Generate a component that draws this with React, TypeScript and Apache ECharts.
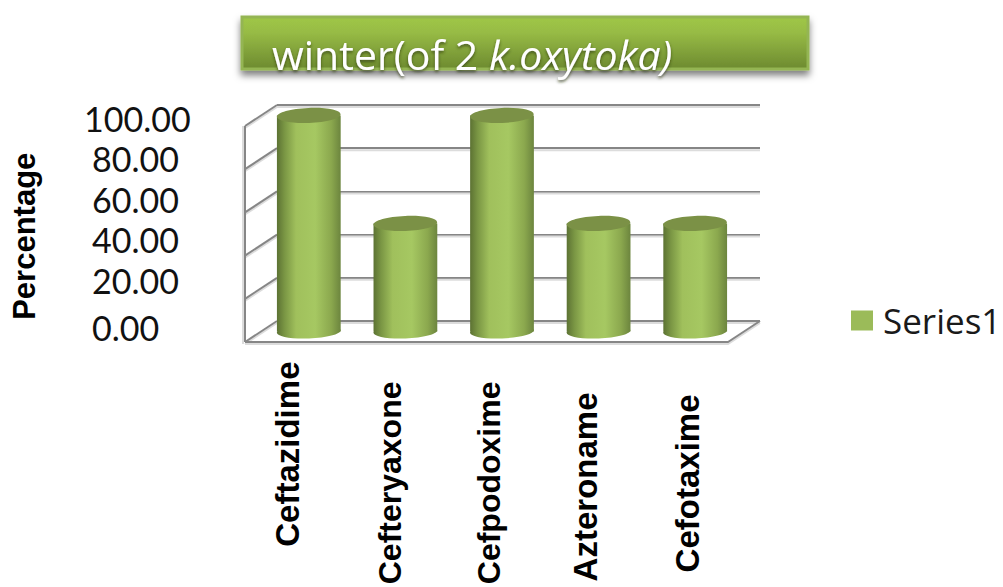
import React, { useEffect, useRef } from "react";
import * as echarts from "echarts";

const categories = ["Ceftazidime", "Cefteryaxone", "Cefpodoxime", "Azteroname", "Cefotaxime"];
const percentages = [100, 50, 100, 50, 50];
const wallTicks = [0, 20, 40, 60, 80, 100];
const seriesName = "Series1";

// Depth of the 3D box: how far the front edge sits from the back wall.
const DEPTH_X = -32;
const DEPTH_Y = 21;

const cylinderFill = new echarts.graphic.LinearGradient(0, 0, 1, 0, [
  { offset: 0, color: "#5c7233" },
  { offset: 0.12, color: "#7a9644" },
  { offset: 0.3, color: "#a0c05c" },
  { offset: 0.6, color: "#a6c862" },
  { offset: 0.85, color: "#8ba84e" },
  { offset: 1, color: "#6c853e" },
]);

function renderCylinder(params: any, api: any) {
  const idx = api.value(0);
  const top = api.coord([idx, api.value(1)]);
  const base = api.coord([idx, 0]);
  const w = api.size([1, 0])[0] * 0.66;
  const cx = top[0] + DEPTH_X / 2 - 0.5;
  const topY = top[1] + DEPTH_Y / 2;
  const baseY = base[1] + DEPTH_Y / 2;
  const rx = w / 2;
  const tilt = 0.04;
  return {
    type: "group",
    children: [
      {
        type: "ellipse",
        shape: { cx, cy: baseY, rx, ry: 7 },
        originX: cx,
        originY: baseY,
        rotation: tilt,
        style: { fill: cylinderFill },
      },
      {
        type: "rect",
        shape: { x: cx - rx, y: topY, width: w, height: baseY - topY },
        style: { fill: cylinderFill },
      },
      {
        type: "ellipse",
        shape: { cx, cy: topY, rx, ry: 7.5 },
        originX: cx,
        originY: topY,
        rotation: tilt,
        style: { fill: "#7b9146" },
      },
    ],
  };
}

// Side wall, floor and the soft edge under each gridline, derived from the back wall's scale.
function renderWall(params: any, api: any) {
  const v = api.value(0);
  const rect = params.coordSys;
  const y = api.coord([0, v])[1];
  const bx = rect.x;
  const ex = rect.x + rect.width;
  const fx = bx + DEPTH_X;
  const line = { stroke: "#868686", lineWidth: 2, fill: "none" };
  const under = { stroke: "#dcdcdc", lineWidth: 2, fill: "none" };
  const children: any[] = [
    { type: "line", shape: { x1: bx, y1: y + 2, x2: ex, y2: y + 2 }, style: under },
    { type: "line", shape: { x1: bx, y1: y + 2, x2: fx, y2: y + DEPTH_Y + 2 }, style: under },
    { type: "line", shape: { x1: bx, y1: y, x2: fx, y2: y + DEPTH_Y }, style: line },
  ];
  if (v === 0) {
    children.push(
      {
        type: "polyline",
        shape: { points: [[fx, y + DEPTH_Y + 2], [ex + DEPTH_X, y + DEPTH_Y + 2], [ex, y + 2]] },
        style: under,
      },
      {
        type: "polyline",
        shape: { points: [[fx, y + DEPTH_Y], [ex + DEPTH_X, y + DEPTH_Y], [ex, y]] },
        style: line,
      }
    );
  }
  if (v === 100) {
    const bottom = api.coord([0, 0])[1] + DEPTH_Y;
    children.push(
      { type: "line", shape: { x1: fx - 2, y1: y + DEPTH_Y, x2: fx - 2, y2: bottom + 2 }, style: under },
      { type: "line", shape: { x1: fx, y1: y + DEPTH_Y, x2: fx, y2: bottom }, style: line }
    );
  }
  return { type: "group", children };
}

const yLabelText = (v: number) => {
  const s = v.toFixed(2);
  if (v === 100) return `{wide|${s}}`;
  if (v === 0) return `{zero|${s}}`;
  return `{base|${s}}`;
};

const catLabelStyles: Record<string, any> = {
  c0: { fontSize: 33, padding: [0, 0, 0, 0] },
  c1: { fontSize: 32, padding: [4, 20, 0, 0] },
  c2: { fontSize: 32, padding: [3, 20, 0, 0] },
  c3: { fontSize: 33, padding: [0, 31, 3, 0] },
  c4: { fontSize: 33, padding: [0, 33, 0, 0] },
};
const sansBold = "'Liberation Sans', Arial, sans-serif";
const labelFont = "Lato, sans-serif";
const titleFont = "'Open Sans', sans-serif";

const titleRun = {
  fontFamily: titleFont,
  fontWeight: "normal",
  fontSize: 41,
  color: "#ffffff",
  textShadowColor: "rgba(40,50,10,0.7)",
  textShadowBlur: 3,
  textShadowOffsetY: 2,
};

export default function App() {
  const ref = useRef<HTMLDivElement>(null);

  useEffect(() => {
    const chart = echarts.init(ref.current!, undefined, { renderer: "svg" });
    const yLabel = { fontFamily: labelFont, fontSize: 34, color: "#111111" };
    chart.setOption({
      animation: false,
      backgroundColor: "#ffffff",
      title: {
        left: 267,
        top: 28,
        text: "{a|winter(of 2 }{b|k.oxytoka)}",
        textStyle: {
          rich: {
            a: titleRun,
            b: { ...titleRun, fontStyle: "italic" },
          },
        },
      },
      graphic: [
        {
          type: "rect",
          z: 0,
          shape: { x: 242, y: 17, width: 566, height: 52 },
          style: {
            fill: new echarts.graphic.LinearGradient(0, 0, 0, 1, [
              { offset: 0, color: "#9fc746" },
              { offset: 0.3, color: "#97bb45" },
              { offset: 1, color: "#6d8a30" },
            ]),
            stroke: "#94b553",
            lineWidth: 3,
            shadowColor: "rgba(0,0,0,0.5)",
            shadowBlur: 7,
            shadowOffsetY: 5,
          },
        },
      ],
      legend: {
        left: 851,
        top: 303,
        padding: 0,
        data: [{ name: seriesName, icon: "rect" }],
        itemWidth: 22,
        itemHeight: 20,
        itemGap: 0,
        textStyle: { fontFamily: titleFont, fontSize: 35, color: "#1a1a1a", padding: [0, 0, 0, 5] },
      },
      grid: [
        { left: 277, width: 483, top: 105, height: 216, outerBoundsMode: "none" },
        { left: 238, width: 499, top: 118, height: 202.5, outerBoundsMode: "none" },
      ],
      xAxis: [
        {
          gridIndex: 0,
          type: "category",
          data: categories,
          axisLine: { show: false },
          axisTick: { show: false },
          axisLabel: { show: false },
        },
        {
          gridIndex: 1,
          type: "category",
          data: categories,
          axisLine: { show: false },
          axisTick: { show: false },
          axisLabel: {
            interval: 0,
            rotate: 90,
            margin: 41,
            color: "#000000",
            fontFamily: sansBold,
            fontWeight: "bold",
            fontSize: 33,
            hideOverlap: false,
            formatter: (v: string) => `{c${categories.indexOf(v)}|${v}}`,
            rich: Object.fromEntries(
              Object.entries(catLabelStyles).map(([k, s]) => [
                k,
                { ...s, fontFamily: sansBold, fontWeight: "bold", color: "#000000" },
              ])
            ),
          },
        },
      ],
      yAxis: [
        {
          gridIndex: 0,
          type: "value",
          min: 0,
          max: 100,
          interval: 20,
          axisLine: { show: false },
          axisTick: { show: false },
          axisLabel: { show: false },
          splitLine: {
            show: true,
            lineStyle: { color: "#868686", width: 2 },
          },
        },
        {
          gridIndex: 1,
          type: "value",
          min: 0,
          max: 100,
          interval: 20,
          axisLine: { show: false },
          axisTick: { show: false },
          splitLine: { show: false },
          name: "Percentage",
          nameLocation: "middle",
          nameRotate: 90,
          nameGap: 198,
          nameTextStyle: {
            color: "#000000",
            fontFamily: sansBold,
            fontWeight: "bold",
            fontSize: 31,
            padding: [0, 34, 0, 0],
          },
          axisLabel: {
            align: "left",
            margin: 154,
            ...yLabel,
            formatter: yLabelText,
            rich: {
              wide: yLabel,
              base: { ...yLabel, padding: [0, 0, 0, 8] },
              zero: { ...yLabel, padding: [13, 0, 0, 8] },
            },
          },
        },
      ],
      series: [
        {
          type: "custom",
          name: "wall",
          z: 1,
          xAxisIndex: 0,
          yAxisIndex: 0,
          renderItem: renderWall,
          data: wallTicks.map((v) => [v]),
          encode: { y: 0 },
          silent: true,
        },
        {
          type: "custom",
          name: seriesName,
          z: 3,
          xAxisIndex: 0,
          yAxisIndex: 0,
          itemStyle: { color: "#9bbb59" },
          renderItem: renderCylinder,
          data: percentages.map((v, i) => [i, v]),
          encode: { x: 0, y: 1 },
        },
      ],
    });
    return () => chart.dispose();
  }, []);

  return (
    <div
      ref={ref}
      style={{ position: "fixed", left: 0, top: 0, width: 1003, height: 587 }}
    />
  );
}
